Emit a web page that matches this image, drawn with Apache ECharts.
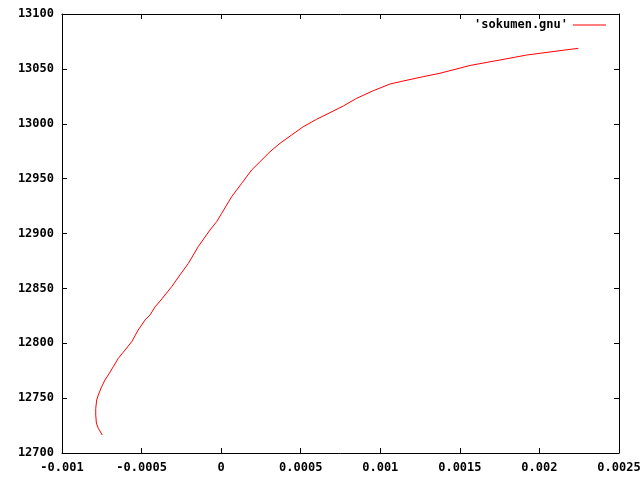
<!DOCTYPE html>
<html>
<head>
<meta charset="utf-8">
<script src="https://cdn.jsdelivr.net/npm/echarts@6/dist/echarts.min.js"></script>
<style>
html,body{margin:0;padding:0;background:#fff;}
#chart{width:640px;height:480px;}
</style>
</head>
<body>
<div id="chart"></div>
<script>
var seriesName = "'sokumen.gnu'";
var xValues = [-0.000747,-0.000772,-0.000784,-0.000788,-0.000788,-0.000782,-0.000772,-0.000751,-0.000730,-0.000709,-0.000678,-0.000646,-0.000615,-0.000562,-0.000521,-0.000478,-0.000447,-0.000416,-0.000378,-0.000311,-0.000259,-0.000206,-0.000144,-0.000070,-0.000028,0.0000035,0.000035,0.000066,0.000129,0.000192,0.000244,0.000307,0.000370,0.000443,0.000516,0.000600,0.000684,0.000768,0.000852,0.000956,0.001061,0.001124,0.001270,0.001375,0.001564,0.001752,0.001920,0.002129,0.002244];
var yValues = [12716.4,12722.5,12727.3,12734.6,12740.7,12748.3,12752.8,12760.4,12766.5,12771.1,12778.6,12786.3,12791.8,12801.4,12812.1,12821.2,12825.7,12833.0,12839.4,12851.5,12862.2,12872.8,12888.0,12903.2,12910.8,12918.4,12926.0,12933.5,12945.7,12957.9,12965.4,12974.5,12982.2,12989.8,12997.3,13004.1,13010.1,13016.2,13023.2,13030.1,13036.2,13038.3,13042.9,13046.0,13053.1,13058.1,13062.6,13066.6,13068.7];
var xTickValues = [-0.001,-0.0005,0,0.0005,0.001,0.0015,0.002,0.0025];
var xTickLabels = ['-0.001','-0.0005','0','0.0005','0.001','0.0015','0.002','0.0025'];
var yTickLabels = ['12700','12750','12800','12850','12900','12950','13000','13050','13100'];

var data = xValues.map(function(x,i){return [x,yValues[i]];});
function xLabel(v){
  var best=0,bd=1e9;
  for(var i=0;i<xTickValues.length;i++){var d=Math.abs(xTickValues[i]-v);if(d<bd){bd=d;best=i;}}
  return xTickLabels[best];
}
function yLabel(v){
  var idx=Math.round((v-12700)/50);
  return yTickLabels[idx]!==undefined?yTickLabels[idx]:String(v);
}
var font = {fontFamily:'DejaVu Sans Mono',fontWeight:'bold',fontSize:12,color:'#000'};
var axisLine = {show:true,onZero:false,lineStyle:{color:'#000',width:1}};
var tick = {show:true,inside:true,length:5,lineStyle:{color:'#000'}};
var chart = echarts.init(document.getElementById('chart'),null,{renderer:'canvas'});
chart.setOption({
  animation:false,
  backgroundColor:'#fff',
  grid:{left:62,right:21,top:14,bottom:27,containLabel:false,outerBoundsMode:'none'},
  legend:{
    show:true,right:29,top:14,align:'right',icon:'rect',itemWidth:33,itemHeight:1,itemGap:0,
    itemStyle:{color:'#ff0000'},
    textStyle:Object.assign({},font,{padding:[0,0,0,0]}),
    data:[{name:seriesName}]
  },
  xAxis:[{
    type:'value',min:-0.001,max:0.0025,interval:0.0005,position:'bottom',
    axisLine:axisLine,axisTick:tick,
    axisLabel:Object.assign({},font,{margin:9,formatter:xLabel,showMaxLabel:true,showMinLabel:true}),
    splitLine:{show:false}
  },{
    type:'value',min:-0.001,max:0.0025,interval:0.0005,position:'top',
    axisLine:axisLine,axisTick:tick,
    axisLabel:{show:false},splitLine:{show:false}
  }],
  yAxis:[{
    type:'value',min:12700,max:13100,interval:50,position:'left',
    axisLine:axisLine,axisTick:tick,
    axisLabel:Object.assign({},font,{margin:8,formatter:yLabel}),
    splitLine:{show:false}
  },{
    type:'value',min:12700,max:13100,interval:50,position:'right',
    axisLine:axisLine,axisTick:tick,
    axisLabel:{show:false},splitLine:{show:false}
  }],
  series:[{
    name:seriesName,type:'line',xAxisIndex:0,yAxisIndex:0,
    data:data,showSymbol:false,symbol:'none',smooth:false,
    lineStyle:{color:'#ff0000',width:1},itemStyle:{color:'#ff0000'}
  }]
});
</script>
</body>
</html>
